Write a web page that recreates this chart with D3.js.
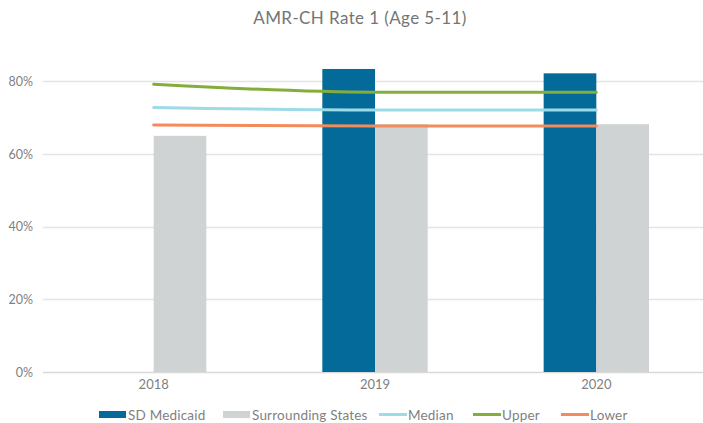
<!DOCTYPE html>
<html>
<head>
<meta charset="utf-8">
<script src="https://cdn.jsdelivr.net/npm/d3@7"></script>
<style>
	body { margin: 0; background: #fff; }
	svg { display: block; font-family: 'Lato', 'Open Sans', sans-serif; }
</style>
</head>
<body>
<div id="chart"></div>
<script>

// chart data
const years = ['2018', '2019', '2020'];
const sdMedicaid = [null, 0.834, 0.822];
const surrounding = [0.650, 0.682, 0.682];
const median = [0.728, 0.721, 0.721];
const upper = [0.792, 0.770, 0.770];
const lower = [0.680, 0.677, 0.677];
const yTicks = [0, 0.2, 0.4, 0.6, 0.8];

const width = 703;
const height = 423;

const svg = d3.select('#chart')
	.append('svg')
		.attr('width', width)
		.attr('height', height);

const xScale = d3.scaleBand()
	.domain(years)
	.range([43, 707]);

const yScale = d3.scaleLinear()
	.domain([0, 0.9])
	.range([372, 45]);

// bars sit in the middle of each band
const barScale = d3.scaleBand()
	.domain(['sd', 'sur'])
	.range([xScale.bandwidth() * 0.262, xScale.bandwidth() * 0.738]);

// title
svg.append('text')
	.attr('x', 360)
	.attr('y', 24)
	.attr('text-anchor', 'middle')
	.attr('fill', '#757575')
	.style('font-size', '17px')
	.style('letter-spacing', '0.4px')
	.text('AMR-CH Rate 1 (Age 5-11)');

// grid
svg.append('g')
	.selectAll('line')
	.data(yTicks)
	.enter().append('line')
		.attr('x1', 43)
		.attr('x2', 707)
		.attr('y1', function(d) { return Math.round(yScale(d)) + 0.5; })
		.attr('y2', function(d) { return Math.round(yScale(d)) + 0.5; })
		.attr('stroke', function(d) { return d == 0 ? '#d9d9d9' : '#e4e4e4'; })
		.attr('stroke-width', 1.3);

// y axis labels
const yAxis = d3.axisLeft(yScale)
	.tickValues(yTicks)
	.tickFormat(d3.format('.0%'))
	.tickSize(0)
	.tickPadding(10);

svg.append('g')
	.attr('transform', 'translate(43, 0)')
	.call(yAxis)
	.call(function(g) { g.select('.domain').remove(); })
	.selectAll('text')
		.attr('fill', '#7f7f7f')
		.style('font-size', '12.5px')
		.style('font-family', "'Lato', 'Open Sans', sans-serif");

// x axis labels
const xAxis = d3.axisBottom(xScale)
	.tickSize(0)
	.tickPadding(8);

svg.append('g')
	.attr('transform', 'translate(0, 372)')
	.call(xAxis)
	.call(function(g) { g.select('.domain').remove(); })
	.selectAll('text')
		.attr('fill', '#7f7f7f')
		.style('font-size', '13px')
		.style('font-family', "'Lato', 'Open Sans', sans-serif");

// bars
const barSeries = [
	{ key: 'sd', values: sdMedicaid, color: '#046a99' },
	{ key: 'sur', values: surrounding, color: '#d0d3d4' }
];

barSeries.forEach(function(s) {
	svg.append('g')
		.selectAll('rect')
		.data(years.map(function(y, i) { return { year: y, value: s.values[i] }; })
			.filter(function(d) { return d.value != null; }))
		.enter().append('rect')
			.attr('x', function(d) { return xScale(d.year) + barScale(s.key); })
			.attr('y', function(d) { return yScale(d.value); })
			.attr('width', barScale.bandwidth())
			.attr('height', function(d) { return yScale(0) - yScale(d.value); })
			.attr('fill', s.color);
});

// lines
const lineSeries = [
	{ name: 'Median', values: median, color: '#9edbe8' },
	{ name: 'Upper', values: upper, color: '#84ad3c' },
	{ name: 'Lower', values: lower, color: '#f28c5c' }
];

const line = d3.line()
	.x(function(d, i) { return xScale(years[i]) + xScale.bandwidth() / 2; })
	.y(function(d) { return yScale(d); })
	.curve(d3.curveMonotoneX);

lineSeries.forEach(function(s) {
	svg.append('path')
		.attr('d', line(s.values))
		.attr('fill', 'none')
		.attr('stroke', s.color)
		.attr('stroke-width', 3)
		.attr('stroke-linecap', 'round');
});

// legend
const legendItems = [
	{ name: 'SD Medicaid', color: '#046a99', type: 'rect', x: 99 },
	{ name: 'Surrounding States', color: '#d0d3d4', type: 'rect', x: 223 },
	{ name: 'Median', color: '#9edbe8', type: 'line', x: 379 },
	{ name: 'Upper', color: '#84ad3c', type: 'line', x: 473 },
	{ name: 'Lower', color: '#f28c5c', type: 'line', x: 561 }
];

const legend = svg.append('g').attr('class', 'legend');

legendItems.forEach(function(d) {
	if (d.type == 'rect') {
		legend.append('rect')
			.attr('x', d.x)
			.attr('y', 411)
			.attr('width', 27)
			.attr('height', 7)
			.attr('fill', d.color);
	} else {
		legend.append('line')
			.attr('x1', d.x)
			.attr('x2', d.x + 28)
			.attr('y1', 414.5)
			.attr('y2', 414.5)
			.attr('stroke', d.color)
			.attr('stroke-width', 3);
	}

	legend.append('text')
		.attr('x', d.x + 29)
		.attr('y', 414.5)
		.attr('dominant-baseline', 'central')
		.attr('fill', '#7f7f7f')
		.style('font-size', '13.5px')
		.style('letter-spacing', '0.2px')
		.text(d.name);
});

</script>
</body>
</html>
